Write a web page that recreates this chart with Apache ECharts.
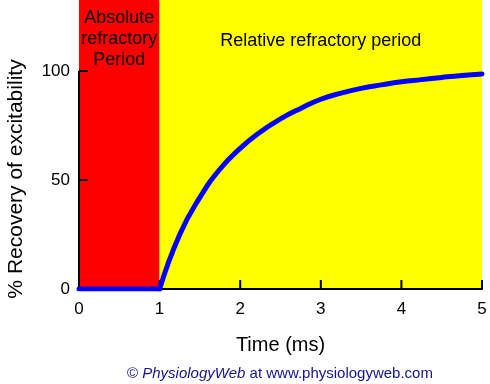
<!DOCTYPE html>
<html>
<head>
<meta charset="utf-8">
<script src="https://cdn.jsdelivr.net/npm/echarts@6/dist/echarts.min.js"></script>
<style>
html,body{margin:0;padding:0;background:#fff;}
#c{width:490px;height:384px;}
</style>
</head>
<body>
<div id="c"></div>
<script>
const times = [0, 1, 1.25, 1.5, 1.75, 2, 2.25, 2.5, 2.75, 3, 3.25, 3.5, 3.75, 4, 4.25, 4.5, 4.75, 5];
const recovery = [0, 0, 25, 42, 55, 64.5, 72, 78, 82.8, 87, 89.8, 92, 93.6, 95, 96, 97, 97.9, 98.6];
const yTicks = [0, 50, 100];
const xTicks = [0, 1, 2, 3, 4, 5];
const periods = [
  { name: 'Absolute\nrefractory\nPeriod', from: 0, to: 1, color: '#ff0000' },
  { name: 'Relative refractory period', from: 1, to: 5, color: '#ffff00' }
];
const onsetTime = 1;

const FONT = '"Liberation Sans", Arial, sans-serif';
const X_MIN = 0, X_MAX = 5, Y_MIN = 0, Y_MAX = 132.5;
const GRID = { left: 79, right: 8, top: 0, bottom: 95 };
const W = 490, H = 384;
const TICK_PX = 9;
// tick length converted to data units of each axis
const xTickLen = TICK_PX * (Y_MAX - Y_MIN) / (H - GRID.top - GRID.bottom);
const yTickLen = TICK_PX * (X_MAX - X_MIN) / (W - GRID.left - GRID.right);

const chart = echarts.init(document.getElementById('c'), null, { renderer: 'canvas' });

const points = times.map((t, i) => [t, recovery[i]]);
const flatPart = points.filter(p => p[0] <= onsetTime);
const risingPart = points.filter(p => p[0] >= onsetTime);

const xTickSegs = [];
xTicks.filter(v => v > 0).forEach(v => { xTickSegs.push([v, 0], [v, xTickLen], '-'); });
const yTickSegs = [];
yTicks.filter(v => v > 0).forEach(v => { yTickSegs.push([0, v], [yTickLen, v], '-'); });

chart.setOption({
  animation: false,
  backgroundColor: '#ffffff',
  grid: { left: GRID.left, right: GRID.right, top: GRID.top, bottom: GRID.bottom, containLabel: false },
  xAxis: {
    type: 'value', min: X_MIN, max: X_MAX, interval: 1, z: 5,
    name: 'Time (ms)', nameLocation: 'middle', nameGap: 46,
    nameTextStyle: { fontFamily: FONT, fontSize: 20, color: '#000' },
    axisLine: { show: true, onZero: false, lineStyle: { color: '#000', width: 2 } },
    axisTick: { show: false },
    axisLabel: { fontFamily: FONT, fontSize: 17, color: '#000', margin: 12 },
    splitLine: { show: false }
  },
  yAxis: {
    type: 'value', min: Y_MIN, max: Y_MAX, interval: 50, z: 5,
    axisLine: { show: false },
    axisTick: { show: false },
    axisLabel: { fontFamily: FONT, fontSize: 17, color: '#000', margin: 9,
      customValues: yTicks,
      formatter: v => (v <= 100 ? String(v) : '') },
    splitLine: { show: false }
  },
  graphic: [{
    type: 'text', x: 16, y: 179, rotation: Math.PI / 2,
    style: { text: '% Recovery of excitability', fontFamily: FONT, fontSize: 21,
      fill: '#000', align: 'center', verticalAlign: 'middle' }
  }, {
    type: 'text', x: 280, y: 374,
    style: {
      text: '{a|© }{b|PhysiologyWeb}{a| at www.physiologyweb.com}',
      align: 'center', verticalAlign: 'middle',
      rich: {
        a: { fontFamily: FONT, fontSize: 15, fill: '#14148c', color: '#14148c' },
        b: { fontFamily: FONT, fontSize: 15, fontStyle: 'italic', fill: '#14148c', color: '#14148c' }
      }
    }
  }],
  series: [{
    type: 'line', name: 'areas', data: [], z: 1, silent: true,
    markArea: {
      silent: true,
      data: periods.map((p, i) => [{
        xAxis: p.from,
        itemStyle: { color: p.color, opacity: 1 },
        label: {
          show: true, position: 'insideTop', distance: i === 0 ? 8 : 31,
          color: '#000', fontFamily: FONT, fontSize: 18, lineHeight: 21,
          formatter: p.name
        }
      }, { xAxis: p.to }])
    }
  }, {
    type: 'line', name: 'yaxisline', z: 6, silent: true, symbol: 'none', clip: false,
    data: [[0, 0], [0, 100]],
    lineStyle: { color: '#000', width: 2 }
  }, {
    type: 'line', name: 'xticks', z: 6, silent: true, symbol: 'none', clip: false,
    connectNulls: false,
    data: xTickSegs,
    lineStyle: { color: '#000', width: 2 }
  }, {
    type: 'line', name: 'yticks', z: 6, silent: true, symbol: 'none', clip: false,
    connectNulls: false,
    data: yTickSegs,
    lineStyle: { color: '#000', width: 2 }
  }, {
    type: 'line', name: 'flat', z: 10, symbol: 'none',
    data: flatPart,
    lineStyle: { color: '#0000ff', width: 5, cap: 'round', join: 'round' }
  }, {
    type: 'line', name: 'recovery', z: 10, symbol: 'none', smooth: 0.5,
    data: risingPart,
    lineStyle: { color: '#0000ff', width: 5, cap: 'round', join: 'round' }
  }]
});
</script>
</body>
</html>
